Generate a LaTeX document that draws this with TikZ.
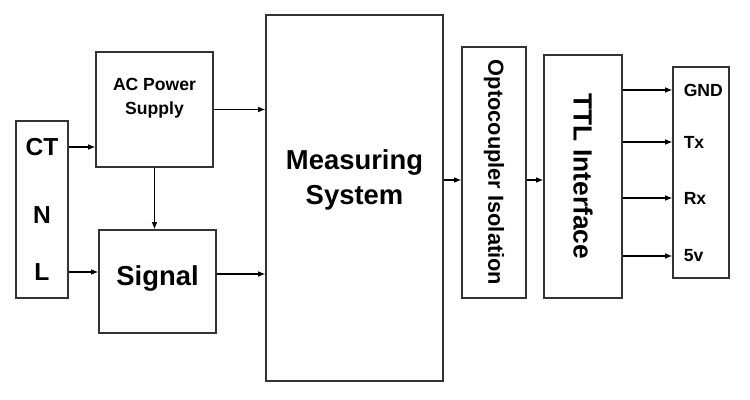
\documentclass[tikz,border=0pt]{standalone}
\usepackage{fontspec}
\setmainfont{Liberation Sans}
\usetikzlibrary{arrows.meta}

\begin{document}
\begin{tikzpicture}[line width=0.85pt,
  block/.style={draw=black!80,rectangle,inner sep=0pt},
  conn/.style={line width=0.6pt,-{Latex[length=4pt,width=3.2pt]}},
  lbl/.style={font=\bfseries,align=center,inner sep=0pt}]
  \useasboundingbox (0,0) rectangle (15,8);
  % blocks
  \node[block,minimum width=1.04cm,minimum height=3.54cm] (src) at (0.84,3.81) {};
  \node[block,minimum width=2.34cm,minimum height=2.30cm] (acps) at (3.09,5.81) {};
  \node[block,minimum width=2.34cm,minimum height=2.06cm] (sig) at (3.15,2.37) {};
  \node[block,minimum width=3.54cm,minimum height=7.32cm] (meas) at (7.09,4.04) {};
  \node[block,minimum width=1.28cm,minimum height=5.02cm] (opto) at (9.88,4.55) {};
  \node[block,minimum width=1.56cm,minimum height=4.86cm] (ttl) at (11.66,4.47) {};
  \node[block,minimum width=1.12cm,minimum height=4.22cm] (pins) at (14.02,4.55) {};
  % texts
  \node[lbl,font=\bfseries\fontsize{14}{16}\selectfont] (ct) at (0.84,5.06) {CT};
  \node[lbl,font=\bfseries\fontsize{14}{16}\selectfont] (n) at (0.84,3.70) {N};
  \node[lbl,font=\bfseries\fontsize{14}{16}\selectfont] (l) at (0.84,2.56) {L};
  \node[lbl,font=\bfseries\fontsize{10}{13.7}\selectfont] (actext) at (3.09,6.04) {AC Power\\Supply};
  \node[lbl,font=\bfseries\fontsize{15.6}{20}\selectfont] (sigtext) at (3.15,2.44) {Signal};
  \node[lbl,font=\bfseries\fontsize{15.6}{20}\selectfont] (meastext) at (7.09,4.40) {Measuring\\System};
  \node[lbl,font=\bfseries\fontsize{12.4}{14}\selectfont,rotate=-90] (optotext) at (opto.center) {Optocoupler Isolation};
  \node[lbl,font=\bfseries\fontsize{15}{17}\selectfont,rotate=-90] (ttltext) at (ttl.center) {TTL Interface};
  \node[lbl,font=\bfseries\fontsize{10}{12}\selectfont,anchor=west] (gnd) at (13.66,6.20) {GND};
  \node[lbl,font=\bfseries\fontsize{10}{12}\selectfont,anchor=west] (tx) at (13.66,5.16) {Tx};
  \node[lbl,font=\bfseries\fontsize{10}{12}\selectfont,anchor=west] (rx) at (13.66,4.04) {Rx};
  \node[lbl,font=\bfseries\fontsize{10}{12}\selectfont,anchor=west] (v5) at (13.66,2.88) {5v};
  % connectors
  \draw[conn] (src.east |- ct) -- (acps.west |- ct);
  \draw[conn] (src.east |- l) -- (sig.west |- l);
  \draw[conn] (acps.south) -- (acps.south |- sig.north);
  \draw[conn] (acps.east) -- (acps.east -| meas.west);
  \draw[conn] ([yshift=0.15cm]sig.east) -- ([yshift=0.15cm]sig.east -| meas.west);
  \draw[conn] (meas.east |- meastext) -- (opto.west |- meastext);
  \draw[conn] (opto.east |- meastext) -- (ttl.west |- meastext);
  \foreach \p in {gnd,tx,rx,v5}
    \draw[conn] (ttl.east |- \p) -- (pins.west |- \p);
\end{tikzpicture}
\end{document}
